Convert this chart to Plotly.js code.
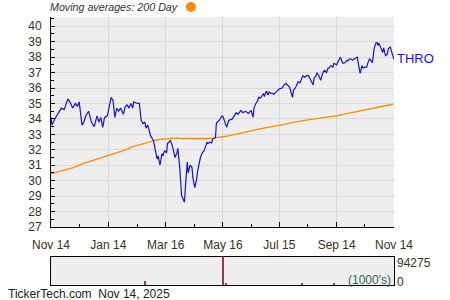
<!DOCTYPE html>
<html>
<head>
<meta charset="utf-8">
<script src="https://cdn.plot.ly/plotly-3.0.1.min.js"></script>
<style>html,body{margin:0;padding:0;background:#fff;}#chart{width:450px;height:300px;}</style>
</head>
<body>
<div id="chart"></div>
<script>
const priceDates = ["2024-11-14","2024-11-15","2024-11-18","2024-11-21","2024-11-25","2024-11-28","2024-11-30","2024-12-02","2024-12-05","2024-12-07","2024-12-10","2024-12-12","2024-12-14","2024-12-15","2024-12-17","2024-12-19","2024-12-21","2024-12-24","2024-12-27","2024-12-30","2025-01-02","2025-01-04","2025-01-06","2025-01-08","2025-01-10","2025-01-13","2025-01-15","2025-01-17","2025-01-19","2025-01-21","2025-01-23","2025-01-25","2025-01-27","2025-01-30","2025-02-01","2025-02-03","2025-02-05","2025-02-07","2025-02-09","2025-02-10","2025-02-14","2025-02-16","2025-02-18","2025-02-20","2025-02-22","2025-02-23","2025-02-25","2025-02-27","2025-02-28","2025-03-03","2025-03-05","2025-03-07","2025-03-08","2025-03-10","2025-03-12","2025-03-13","2025-03-15","2025-03-17","2025-03-18","2025-03-21","2025-03-23","2025-03-24","2025-03-26","2025-03-28","2025-03-29","2025-03-31","2025-04-01","2025-04-02","2025-04-03","2025-04-05","2025-04-06","2025-04-08","2025-04-09","2025-04-11","2025-04-13","2025-04-14","2025-04-16","2025-04-18","2025-04-19","2025-04-22","2025-04-24","2025-04-26","2025-04-29","2025-04-30","2025-05-02","2025-05-04","2025-05-05","2025-05-08","2025-05-09","2025-05-10","2025-05-12","2025-05-15","2025-05-16","2025-05-18","2025-05-20","2025-05-22","2025-05-26","2025-05-28","2025-05-30","2025-06-01","2025-06-04","2025-06-06","2025-06-09","2025-06-12","2025-06-15","2025-06-17","2025-06-18","2025-06-20","2025-06-22","2025-06-23","2025-06-25","2025-06-28","2025-06-29","2025-07-01","2025-07-03","2025-07-04","2025-07-06","2025-07-08","2025-07-09","2025-07-11","2025-07-14","2025-07-15","2025-07-18","2025-07-20","2025-07-22","2025-07-24","2025-07-26","2025-07-29","2025-07-30","2025-08-01","2025-08-03","2025-08-04","2025-08-06","2025-08-08","2025-08-09","2025-08-11","2025-08-13","2025-08-15","2025-08-19","2025-08-20","2025-08-21","2025-08-23","2025-08-24","2025-08-26","2025-08-28","2025-08-30","2025-09-01","2025-09-03","2025-09-05","2025-09-06","2025-09-08","2025-09-10","2025-09-11","2025-09-14","2025-09-15","2025-09-18","2025-09-20","2025-09-21","2025-09-23","2025-09-25","2025-09-26","2025-09-28","2025-09-30","2025-10-01","2025-10-03","2025-10-06","2025-10-07","2025-10-09","2025-10-11","2025-10-12","2025-10-14","2025-10-16","2025-10-17","2025-10-19","2025-10-22","2025-10-23","2025-10-24","2025-10-26","2025-10-27","2025-10-28","2025-10-29","2025-10-31","2025-11-02","2025-11-03","2025-11-05","2025-11-07","2025-11-08","2025-11-10","2025-11-12","2025-11-13","2025-11-14"];
const priceValues = [34.1,33.6,34.0,34.3,34.7,34.6,34.9,35.3,35.0,34.7,35.0,34.8,35.1,34.7,33.6,33.8,34.2,34.5,33.8,33.5,34.2,33.8,34.1,33.45,34.1,34.2,34.8,35.4,35.2,34.1,34.7,34.5,34.7,34.3,34.8,34.9,34.7,35.0,34.7,35.1,35.0,35.0,33.9,33.7,33.8,33.4,33.6,33.05,32.9,32.6,32.1,31.4,31.6,31.0,31.75,31.6,31.95,31.8,32.4,32.6,32.3,31.95,31.5,31.8,32.1,30.85,29.7,29.0,28.9,28.6,29.55,31.2,30.5,31.0,30.85,30.2,29.55,30.1,30.6,31.5,31.8,31.95,32.5,32.4,32.5,32.45,32.7,32.8,33.7,33.8,33.9,34.2,34.15,33.8,33.45,33.9,34.0,34.2,34.4,34.3,34.55,34.4,34.5,34.35,34.55,34.1,34.7,35.0,35.2,35.4,35.35,35.65,35.45,35.8,35.55,35.75,35.65,35.65,35.6,35.7,35.85,35.95,36.0,36.2,36.3,36.2,36.05,35.4,35.85,36.0,36.25,36.4,36.35,36.6,36.8,36.7,36.8,36.8,36.3,36.2,36.65,36.8,37.0,36.8,36.5,36.95,37.15,37.0,37.3,37.3,37.45,37.35,37.6,37.5,37.65,38.0,37.65,37.6,37.65,37.8,37.75,37.9,37.85,37.8,37.9,38.0,37.6,36.95,37.45,37.3,37.35,37.35,37.6,37.9,37.65,38.25,38.6,38.95,38.95,38.75,38.9,38.6,38.3,38.6,38.1,38.2,38.55,38.65,38.2,37.9,37.85];

const maDates = ["2024-11-14","2024-11-26","2024-12-08","2024-12-18","2024-12-31","2025-01-13","2025-01-21","2025-01-30","2025-02-09","2025-02-19","2025-03-01","2025-03-07","2025-03-17","2025-03-28","2025-04-02","2025-04-22","2025-05-05","2025-05-10","2025-05-18","2025-06-03","2025-06-24","2025-07-16","2025-08-06","2025-08-27","2025-09-15","2025-10-09","2025-10-30","2025-11-13"];
const maValues = [30.45,30.65,30.85,31.1,31.35,31.6,31.8,31.95,32.2,32.4,32.55,32.65,32.7,32.77,32.73,32.72,32.73,32.8,32.86,33.07,33.36,33.6,33.85,34.05,34.22,34.52,34.76,34.95];

const volDates = ["2025-02-22","2025-05-16","2025-05-19","2025-08-08","2025-09-11"];
const volValues = [12000,94275,8000,8000,6000];

const tickDates = ["2024-11-14","2025-01-14","2025-03-16","2025-05-16","2025-07-15","2025-09-14","2025-11-14"];
const tickLabels = ["Nov 14","Jan 14","Mar 16","May 16","Jul 15","Sep 14","Nov 14"];
const minorTickDates = ["2024-12-14","2025-02-14","2025-04-16","2025-06-15","2025-08-14","2025-10-14"];
const volMax = 94275;
const symbol = "THRO";

const FONT = "Liberation Sans, Arial, sans-serif";
const TXT = "#3a2e1c";

const traces = [
  {x: maDates, y: maValues, type: "scatter", mode: "lines", line: {color: "#ff8c00", width: 1.3}, xaxis: "x", yaxis: "y", hoverinfo: "skip"},
  {x: priceDates, y: priceValues, type: "scatter", mode: "lines", line: {color: "#1414e0", width: 1.2}, xaxis: "x", yaxis: "y", hoverinfo: "skip"},
  {x: volDates, y: volValues, type: "bar", width: 86400000 * 1.6, marker: {color: "#993366", line: {width: 0}}, xaxis: "x2", yaxis: "y2", hoverinfo: "skip"}
];

const xr = ["2024-11-14", "2025-11-14"];
const layout = {
  width: 450, height: 300,
  margin: {l: 51, r: 56, t: 17, b: 15},
  paper_bgcolor: "#ffffff",
  plot_bgcolor: "#eeeeee",
  showlegend: false,
  font: {family: FONT, size: 12, color: TXT},
  bargap: 0,
  xaxis: {
    domain: [0, 1], anchor: "y", type: "date", range: xr,
    tickmode: "array", tickvals: tickDates, ticktext: tickLabels,
    ticks: "inside", ticklen: 5, tickcolor: "#000", tickwidth: 1,
    ticklabelstandoff: 7,
    showline: true, linecolor: "#000", linewidth: 1,
    showgrid: true, gridcolor: "#d9d9d9", gridwidth: 1,
    zeroline: false,
    tickfont: {family: FONT, size: 12, color: TXT},
    minor: {tickmode: "array", tickvals: minorTickDates, ticks: "inside", ticklen: 3, tickcolor: "#000", showgrid: false}
  },
  yaxis: {
    domain: [0.2164, 1], anchor: "x", range: [27, 40.6],
    tickmode: "linear", tick0: 27, dtick: 1,
    ticks: "inside", ticklen: 4, tickcolor: "#000",
    ticklabelstandoff: 6,
    showline: true, linecolor: "#000", linewidth: 1,
    showgrid: true, gridcolor: "#d9d9d9", gridwidth: 1,
    zeroline: false,
    tickfont: {family: FONT, size: 12, color: TXT},
    minor: {dtick: 0.5, tick0: 27, ticks: "inside", ticklen: 3, tickcolor: "#000", showgrid: false}
  },
  xaxis2: {
    domain: [0, 1], anchor: "y2", type: "date", range: xr,
    showticklabels: false, ticks: "", showgrid: false, zeroline: false,
    showline: true, mirror: true, linecolor: "#000", linewidth: 1
  },
  yaxis2: {
    domain: [0, 0.1056], anchor: "x2", range: [0, volMax],
    showticklabels: false, ticks: "", showgrid: false, zeroline: false,
    showline: true, mirror: true, linecolor: "#000", linewidth: 1
  },
  shapes: [
    {type: "circle", xref: "paper", yref: "paper", xsizemode: "pixel", ysizemode: "pixel",
     xanchor: 0.408, yanchor: 1.037, x0: -5, x1: 5, y0: -5, y1: 5,
     fillcolor: "#ff8c00", line: {width: 0}}
  ],
  annotations: [
    {xref: "paper", yref: "paper", x: 0, y: 1.037, xanchor: "left", yanchor: "middle", xshift: -3, showarrow: false,
     text: "<i>Moving averages: 200 Day</i>", font: {family: FONT, size: 10.7, color: "#333333"}},
    {xref: "paper", yref: "y", x: 1, y: 37.9, xanchor: "left", yanchor: "middle", xshift: 1, showarrow: false,
     text: symbol, font: {family: FONT, size: 13, color: "#1414e0"}},
    {xref: "paper", yref: "y2 domain", x: 1, y: 0.78, xanchor: "left", yanchor: "middle", xshift: 1, showarrow: false,
     text: String(volMax), font: {family: FONT, size: 12, color: TXT}},
    {xref: "paper", yref: "y2 domain", x: 1, y: 0.1, xanchor: "left", yanchor: "middle", xshift: 1, showarrow: false,
     text: "0", font: {family: FONT, size: 12, color: TXT}},
    {xref: "paper", yref: "y2 domain", x: 1, y: 0.17, xanchor: "right", yanchor: "middle", xshift: -1, showarrow: false,
     text: "(1000's)", font: {family: FONT, size: 12, color: "#336655"}},
    {xref: "paper", yref: "paper", x: -0.131, y: -0.034, xanchor: "left", yanchor: "middle", showarrow: false,
     text: "TickerTech.com&nbsp;&nbsp;Nov 14, 2025", font: {family: FONT, size: 12, color: "#222222"}}
  ]
};

Plotly.newPlot("chart", traces, layout, {staticPlot: true, displayModeBar: false});
</script>
</body>
</html>
